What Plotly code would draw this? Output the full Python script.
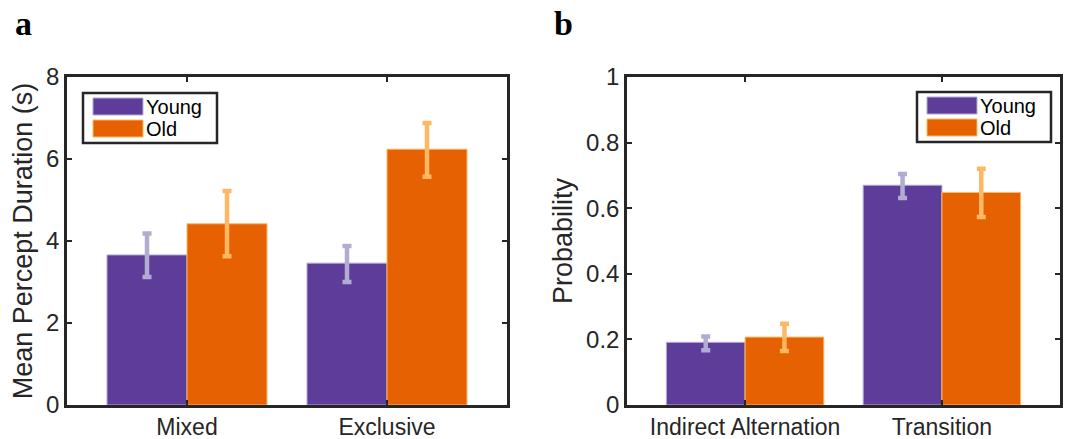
import plotly.graph_objects as go

W, H = 1070, 439

# ---------------- data ----------------
series_names = ["Young", "Old"]
bar_colors = ["#5E3C99", "#E66101"]
err_colors = ["#B2ABD2", "#FDB863"]

cats_a = ["Mixed", "Exclusive"]
young_a = [3.66, 3.46]
young_a_hi = [4.18, 3.88]
young_a_lo = [3.12, 3.00]
old_a = [4.42, 6.24]
old_a_hi = [5.22, 6.88]
old_a_lo = [3.63, 5.57]

cats_b = ["Indirect Alternation", "Transition"]
young_b = [0.191, 0.670]
young_b_hi = [0.209, 0.704]
young_b_lo = [0.167, 0.631]
old_b = [0.207, 0.648]
old_b_hi = [0.248, 0.720]
old_b_lo = [0.165, 0.573]

yticks_a = [0, 2, 4, 6, 8]
yticks_b = [0, 0.2, 0.4, 0.6, 0.8, 1]
yticklabels_b = ["0", "0.2", "0.4", "0.6", "0.8", "1"]

# ---------------- layout geometry (pixels) ----------------
ax_top, ax_bot = 77, 405
a_left, a_right = 67, 507
b_left, b_right = 627, 1060

def px(x):
    return x / W

def py(y):
    return 1 - y / H

TXT = "#262626"
FONT = "Liberation Sans, Arial, sans-serif"

fig = go.Figure()

groups = [
    ("x", "y", cats_a, [(young_a, young_a_hi, young_a_lo), (old_a, old_a_hi, old_a_lo)]),
    ("x2", "y2", cats_b, [(young_b, young_b_hi, young_b_lo), (old_b, old_b_hi, old_b_lo)]),
]
for xa, ya, cats, sers in groups:
    xpos = list(range(1, len(cats) + 1))
    for i, (m, hi, lo) in enumerate(sers):
        fig.add_trace(go.Bar(
            x=xpos, y=m, name=series_names[i], xaxis=xa, yaxis=ya,
            marker=dict(color=bar_colors[i], line=dict(color=err_colors[i], width=1)),
            error_y=dict(type="data", symmetric=False,
                         array=[h - v for h, v in zip(hi, m)],
                         arrayminus=[v - l for v, l in zip(m, lo)],
                         color=err_colors[i], thickness=4.5, width=4.5),
            showlegend=False, hoverinfo="skip",
        ))

axis_common = dict(
    showline=True, linewidth=2.5, linecolor=TXT, mirror="ticks",
    ticks="inside", ticklen=5, tickwidth=2, tickcolor=TXT,
    showgrid=False, zeroline=False, automargin=False,
)
yfont = dict(family=FONT, size=24, color=TXT)
xfont = dict(family=FONT, size=23, color=TXT)

fig.update_layout(
    width=W, height=H,
    margin=dict(l=0, r=0, t=0, b=0),
    paper_bgcolor="white", plot_bgcolor="white",
    barmode="group", bargap=0.2, bargroupgap=0,
    showlegend=False,
    xaxis=dict(domain=[px(a_left), px(a_right)], range=[0.4, 2.6],
               tickvals=[1, 2], ticktext=cats_a, anchor="y", tickfont=xfont,
               **axis_common),
    yaxis=dict(domain=[py(ax_bot), py(ax_top)], range=[0, 8], tickvals=yticks_a,
               anchor="x", tickfont=yfont,
               title=dict(text="Mean Percept Duration (s)", standoff=6,
                          font=dict(family=FONT, size=27, color=TXT)),
               **axis_common),
    xaxis2=dict(domain=[px(b_left), px(b_right)], range=[0.4, 2.6],
                tickvals=[1, 2], ticktext=cats_b, anchor="y2", tickfont=xfont,
                **axis_common),
    yaxis2=dict(domain=[py(ax_bot), py(ax_top)], range=[0, 1], tickvals=yticks_b,
                ticktext=yticklabels_b, anchor="x2", tickfont=yfont,
                title=dict(text="Probability", standoff=6,
                           font=dict(family=FONT, size=27, color=TXT)),
                **axis_common),
)

# panel letters
for letter, xc in [("a", 24), ("b", 563)]:
    fig.add_annotation(text="<b>%s</b>" % letter, xref="paper", yref="paper",
                       x=px(xc), y=py(24), xanchor="center", yanchor="middle",
                       showarrow=False,
                       font=dict(family="Liberation Serif, Times New Roman, serif",
                                 size=34, color="black"))

# legends (drawn as boxes in pixel layout)
def add_legend(box_l, box_t):
    box_r, box_b = box_l + 134, box_t + 50
    fig.add_shape(type="rect", xref="paper", yref="paper",
                  x0=px(box_l), x1=px(box_r), y0=py(box_b), y1=py(box_t),
                  line=dict(color=TXT, width=2.5), fillcolor="white", layer="above")
    for i, name in enumerate(series_names):
        top = box_t + 5 + i * 22
        fig.add_shape(type="rect", xref="paper", yref="paper",
                      x0=px(box_l + 10), x1=px(box_l + 60),
                      y0=py(top + 17), y1=py(top),
                      line=dict(color=err_colors[i], width=1),
                      fillcolor=bar_colors[i], layer="above")
        fig.add_annotation(text=name, xref="paper", yref="paper",
                           x=px(box_l + 62), y=py(top + 9),
                           xanchor="left", yanchor="middle", showarrow=False,
                           borderpad=0,
                           font=dict(family=FONT, size=20, color="black"))

add_legend(83, 93)
add_legend(917, 92)

fig.write_html("out.html", config={"displayModeBar": False},
               post_script="document.body.style.margin='0px';")
